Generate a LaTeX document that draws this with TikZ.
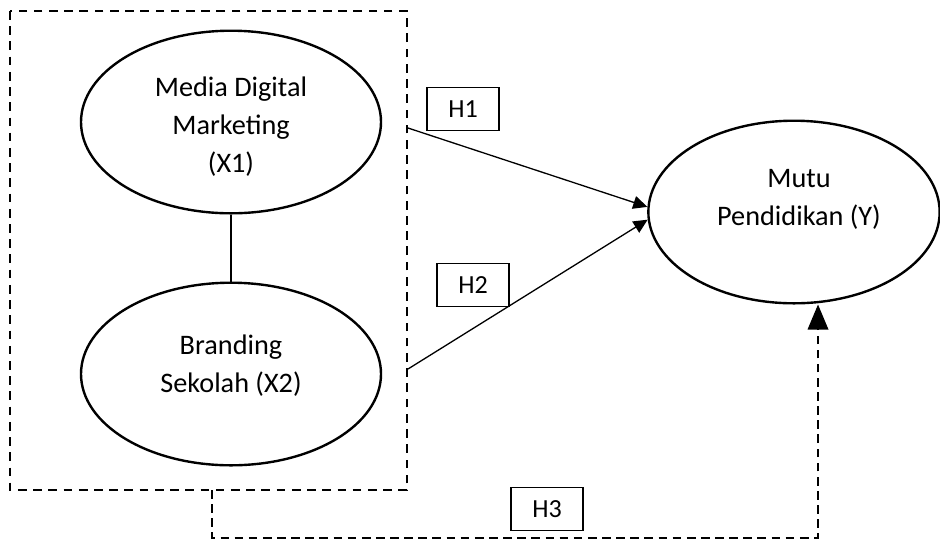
\documentclass[tikz,border=0pt]{standalone}
\usepackage{fontspec}
\setmainfont{Carlito}
\usetikzlibrary{shapes.geometric,arrows.meta,positioning}
\begin{document}
\begin{tikzpicture}[x=0.46pt,y=-0.46pt,line join=miter,>={Triangle[length=6.5pt,width=6pt]}]
	\tikzset{var/.style={draw,ellipse,line width=1.1pt,minimum width=138pt,minimum height=84pt,inner sep=0pt},
		lbl/.style={align=center,font=\fontsize{13}{17.5}\selectfont},
		hbox/.style={draw,line width=0.6pt,minimum width=33pt,minimum height=20pt,inner sep=0pt,font=\fontsize{12}{14}\selectfont},
		grp/.style={line width=0.9pt,dash pattern=on 4pt off 3pt},
		conn/.style={line width=0.6pt}}
	\useasboundingbox (0,0) rectangle (940,539);
	% variabel
	\node[var] (x1) at (231,122) {};
	\node[var] (x2) at (231,374) {};
	\node[var,minimum width=134pt] (y) at (794,212) {};
	\node[lbl] (tx1) at (231,127) {Media Digital\\Marketing\\(X1)};
	\node[lbl] (tx2) at (231,366) {Branding\\Sekolah (X2)};
	\node[lbl] (ty) at (799,199) {Mutu\\Pendidikan (Y)};
	\draw[conn] (x1) -- (x2);
	% kotak putus-putus
	\draw[grp] (10,11) rectangle (407,490);
	\coordinate (s1) at (408,128);
	\coordinate (s2) at (408,369);
	\coordinate (s3) at (212,490);
	\coordinate (c3) at (818,538);
	% hipotesis
	\draw[conn,->] (s1) -- (y.178);
	\draw[conn,->] (s2) -- (y.183);
	\draw[conn,dash pattern=on 4pt off 2.5pt,-{Triangle[length=11.5pt,width=9.5pt]}] (s3) |- (c3) -- (c3 |- y.south);
	\node[hbox] (h1) at (463,109) {H1};
	\node[hbox] (h2) at (473,285) {H2};
	\node[hbox] (h3) at (547,509) {H3};
\end{tikzpicture}
\end{document}
